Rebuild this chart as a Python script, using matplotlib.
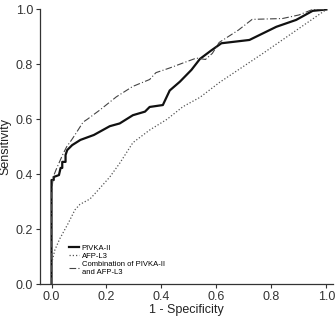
import matplotlib
matplotlib.use("Agg")
import matplotlib.pyplot as plt

plt.rcParams['font.family'] = ['Liberation Sans', 'DejaVu Sans']

# ROC curves
pivka_x = [0, 0, 0, 0.008, 0.008, 0.027, 0.033, 0.039, 0.039, 0.051, 0.051, 0.057,
           0.075, 0.105, 0.154, 0.212, 0.248, 0.296, 0.34, 0.357, 0.405, 0.43,
           0.467, 0.509, 0.54, 0.58, 0.618, 0.72, 0.818, 0.89, 0.95, 1.0]
pivka_y = [0, 0.315, 0.379, 0.379, 0.39, 0.397, 0.423, 0.423, 0.445, 0.445, 0.47, 0.488,
           0.506, 0.525, 0.543, 0.575, 0.585, 0.615, 0.628, 0.645, 0.652, 0.705,
           0.737, 0.78, 0.82, 0.85, 0.877, 0.889, 0.937, 0.962, 0.995, 1.0]

afp_x = [0.003, 0.012, 0.03, 0.06, 0.085, 0.103, 0.14, 0.164, 0.212, 0.248, 0.296,
         0.357, 0.42, 0.478, 0.54, 0.612, 0.769, 1.0]
afp_y = [0.087, 0.124, 0.165, 0.22, 0.27, 0.29, 0.31, 0.336, 0.39, 0.44, 0.515,
         0.561, 0.6, 0.646, 0.68, 0.735, 0.84, 1.0]

combo_x = [0, 0, 0.006, 0.018, 0.04, 0.055, 0.073, 0.085, 0.115, 0.13, 0.176, 0.236,
           0.296, 0.357, 0.38, 0.43, 0.478, 0.527, 0.56, 0.585, 0.61, 0.68, 0.73,
           0.84, 0.9, 0.95, 1.0]
combo_y = [0, 0.33, 0.39, 0.42, 0.47, 0.5, 0.525, 0.543, 0.59, 0.6, 0.634, 0.682,
           0.72, 0.745, 0.77, 0.787, 0.805, 0.823, 0.818, 0.84, 0.88, 0.925, 0.964,
           0.967, 0.98, 1.0, 1.0]

labels = ['PIVKA-II', 'AFP-L3', 'Combination of PIVKA-II\nand AFP-L3']

fig = plt.figure(figsize=(3.36, 3.16), dpi=100)
ax = fig.add_axes([0.119, 0.101, 0.872, 0.869])

ax.plot(pivka_x, pivka_y, color='#111111', lw=1.6, label=labels[0])
ax.plot(afp_x, afp_y, color='#555555', lw=0.9, linestyle=(0, (1, 1.6)), label=labels[1])
ax.plot(combo_x, combo_y, color='#444444', lw=0.8, linestyle=(0, (6, 2, 1, 2)), label=labels[2])

ax.set_xlim(-0.042, 1.024)
ax.set_ylim(0, 1.0)
ax.set_xticks([0, 0.2, 0.4, 0.6, 0.8, 1.0])
ax.set_yticks([0, 0.2, 0.4, 0.6, 0.8, 1.0])
ax.xaxis.set_major_formatter(matplotlib.ticker.FormatStrFormatter('%.1f'))
ax.yaxis.set_major_formatter(matplotlib.ticker.FormatStrFormatter('%.1f'))
ax.tick_params(direction='out', length=3, width=0.8, labelsize=9, pad=2, colors='#333333')
for s in ['top', 'right']:
    ax.spines[s].set_visible(False)
for s in ['left', 'bottom']:
    ax.spines[s].set_linewidth(0.9)
    ax.spines[s].set_color('#333333')

ax.set_xlabel('1 - Specificity', fontsize=9, labelpad=1, color='#222222')
ax.set_ylabel('Sensitivity', fontsize=9, labelpad=3, color='#222222')

ax.legend(loc='lower left', bbox_to_anchor=(0.1, 0.03), frameon=False, fontsize=5.5,
          handlelength=1.3, handletextpad=0.3, labelspacing=0.1, borderpad=0,
          borderaxespad=0)

fig.savefig('out.png', dpi=100)
